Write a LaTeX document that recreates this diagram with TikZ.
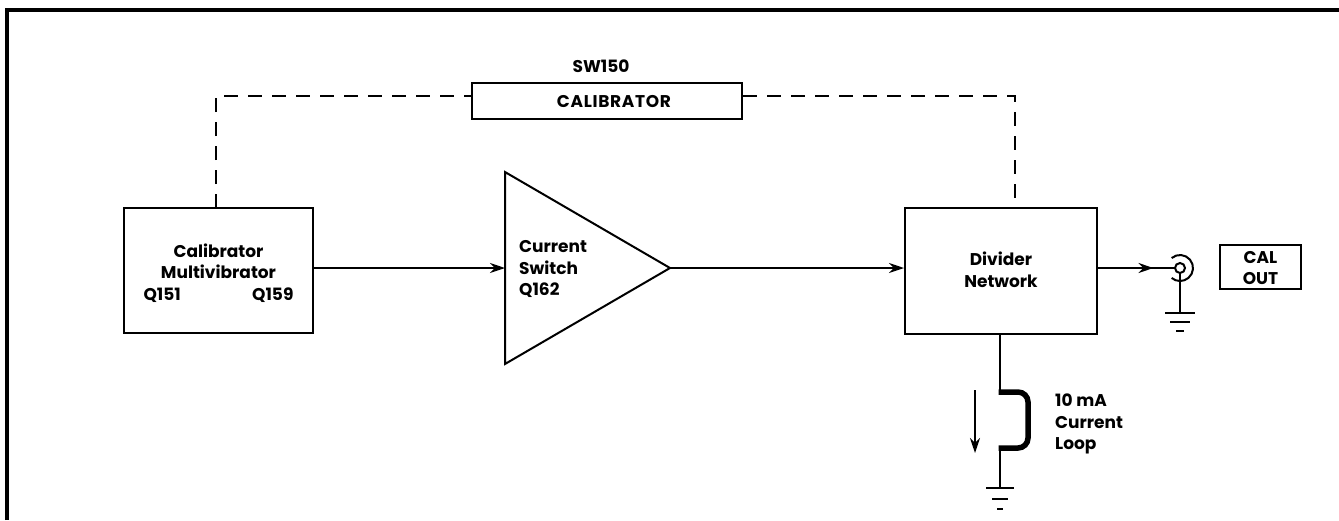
\documentclass[tikz,border=0pt]{standalone}
\usepackage{fontspec}
\setmainfont{Poppins}
\usetikzlibrary{arrows.meta,decorations.markings,calc}
\begin{document}
\begin{tikzpicture}[x=1pt,y=-1pt,
  box/.style={draw,line width=2pt,inner sep=0pt},
  lbl/.style={font=\fontsize{17}{21.5}\selectfont\bfseries,inner sep=0pt,align=center},
  wire/.style={line width=2pt},
  dashln/.style={line width=2pt,dash pattern=on 14pt off 10pt},
  arr/.style={-{Stealth[length=15pt,width=10pt,inset=5pt]},line width=2pt},
  midarr/.style={line width=2pt,postaction={decorate},decoration={markings,mark=at position #1 with {\arrow{Stealth[length=15pt,width=10pt,inset=5pt]}}}},
  gnd/.style={line width=2pt}
]
\useasboundingbox (0,0) rectangle (1339,520);
% frame
\draw[line width=3.2pt] (7,520) -- (7,10) -- (1339,10);

% blocks
\node[box,minimum width=189pt,minimum height=125pt] (mv) at (218.5,270.5) {};
\node[lbl] (mvt) at (218.5,273) {Calibrator\\Multivibrator\\\makebox[150pt]{Q151\hfill Q159}};

\node[box,minimum width=270pt,minimum height=36pt] (cal) at (607,101) {};
\node[lbl] (calt) at (614,102) {\addfontfeature{LetterSpace=4}CALIBRATOR};
\node[lbl] (sw) at (601,66) {SW150};

\node[box,minimum width=192pt,minimum height=126pt] (dv) at (1001,271) {};
\node[lbl] (dvt) at (1001,270) {Divider\\Network};

\node[box,minimum width=81pt,minimum height=44pt] (co) at (1260.5,267) {};
\node[lbl] (cot) at (1260.5,268) {CAL\\OUT};

% triangle
\coordinate (tl) at (505,172);
\coordinate (tb) at (505,364);
\coordinate (tin) at (505,268);
\coordinate (tout) at (670,268);
\draw[wire,line join=miter] (tl) -- (tout) -- (tb) -- cycle;
\node[lbl,align=left,anchor=west] (cs) at (519,269) {Current\\Switch\\Q162};

% dashed mechanical link
\coordinate (d1) at (216,96);
\coordinate (d2) at (1015,96);
\draw[dashln] (216,208) -- (d1) -- (cal.west |- d1);
\draw[dashln] (cal.east |- d2) -- (d2) -- (1015,208);

% signal path
\draw[arr] (313,268) -- (tin);
\draw[arr] (tout) -- (dv.west |- tout);

% output jack
\coordinate (jk) at (1180,268);
\draw[midarr=0.72] (dv.east |- jk) -- (1175,268);
\draw[wire] (jk) circle[radius=5pt];
\draw[wire] ($(jk)+(130:13pt)$) arc[start angle=130,end angle=-130,radius=13pt];
\draw[gnd] (1180,273) -- (1180,313);
\draw[gnd] (1165,313) -- (1195,313);
\draw[gnd] (1170,322) -- (1190,322);
\draw[gnd] (1176,331) -- (1184,331);

% current loop
\coordinate (lp1) at (1000,392);
\coordinate (lp2) at (1000,448);
\draw[wire] (dv.south -| lp1) -- (lp1);
\draw[line width=5.5pt,rounded corners=10pt] (998.5,392) -- (1028,392) -- (1028,448) -- (998.5,448);
\draw[wire] (lp2) -- (1000,488);
\draw[gnd] (986,488) -- (1014,488);
\draw[gnd] (992,499) -- (1008,499);
\draw[gnd] (997,509) -- (1003,509);
\draw[arr] (975,390) -- (975,453);
\node[lbl,align=left,anchor=west] (cl) at (1055,424) {10 mA\\Current\\Loop};
\end{tikzpicture}
\end{document}
